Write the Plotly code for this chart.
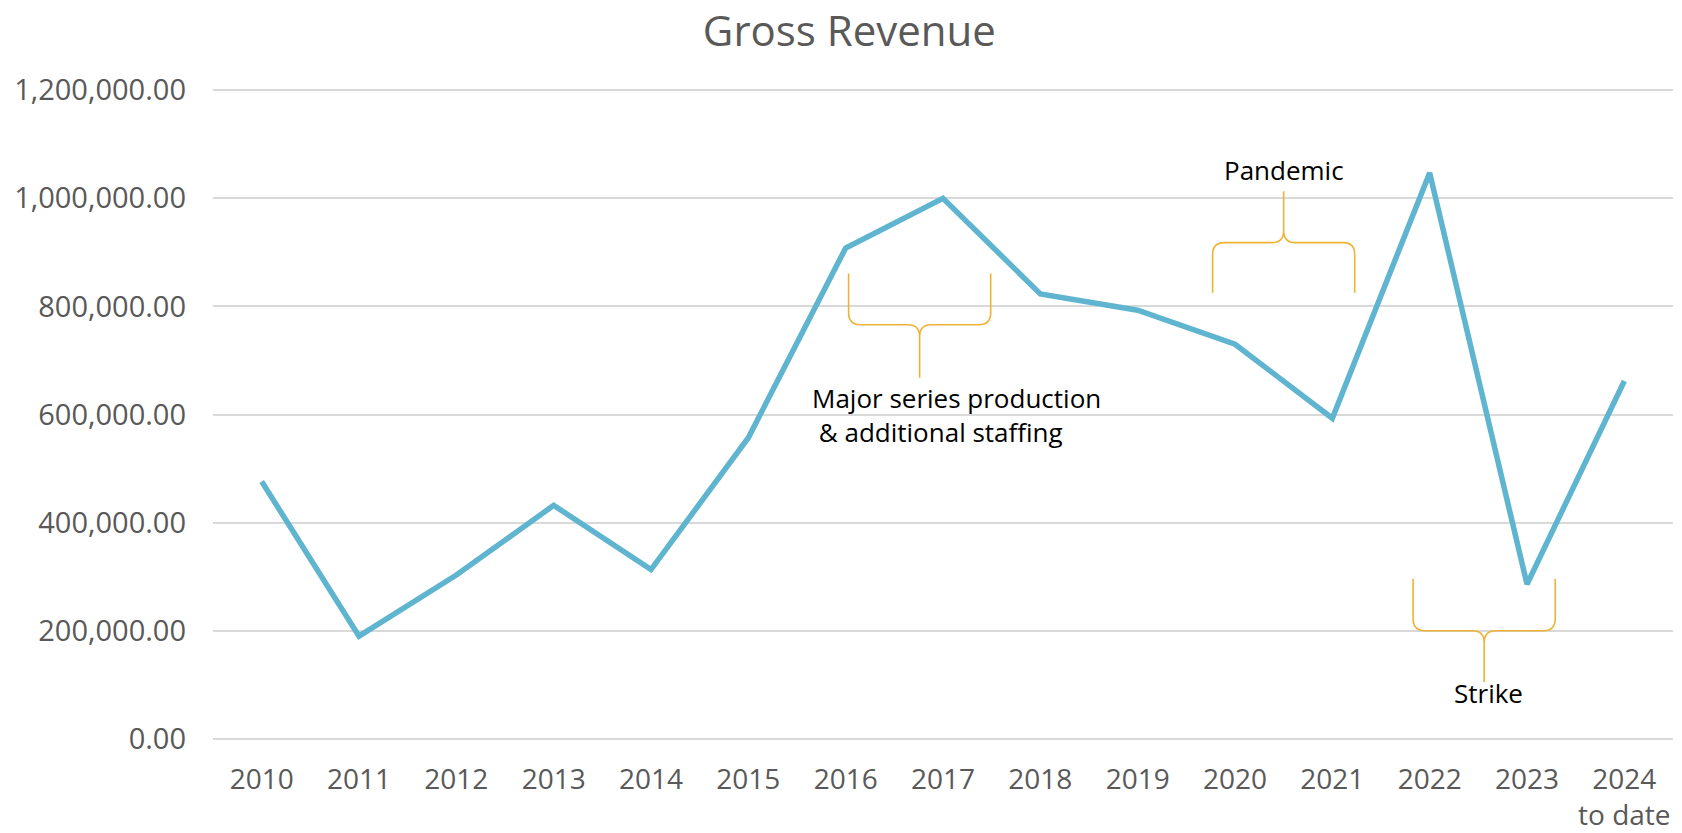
import plotly.graph_objects as go

years = ["2010", "2011", "2012", "2013", "2014", "2015", "2016", "2017",
         "2018", "2019", "2020", "2021", "2022", "2023", "2024<br>to date"]
revenue = [476000, 190000, 303000, 432000, 313000, 557000, 908000, 1000000,
           823000, 793000, 730000, 593000, 1047000, 286000, 662000]
y_ticks = [0, 200000, 400000, 600000, 800000, 1000000, 1200000]

# braces: (left x, right x, middle x, side-end y, bar y, tip y) in data units
braces = [
    (6.03, 7.49, 6.76, 861000, 766000, 668000),
    (9.77, 11.23, 10.50, 825000, 918000, 1013000),
    (11.83, 13.29, 12.56, 296000, 200000, 105000),
]
labels = [
    ("Major series production<br>&nbsp;& additional staffing", 5.63, 599000, "left"),
    ("Pandemic", 10.50, 1053000, "center"),
    ("Strike", 12.60, 85000, "center"),
]

xs = list(range(len(years)))

fig = go.Figure()
fig.add_trace(go.Scatter(x=xs, y=revenue, mode="lines",
                         line=dict(color="#5FB4CF", width=5.5),
                         hoverinfo="x+y"))

def brace_path(x0, x1, xm, yend, ybar, ytip, rx=0.12, ry=22000):
    s = 1 if yend > ybar else -1
    p = (f"M {x0},{yend} L {x0},{ybar + s*ry} Q {x0},{ybar} {x0 + rx},{ybar} "
         f"L {xm - rx},{ybar} Q {xm},{ybar} {xm},{ybar - s*ry} L {xm},{ytip} "
         f"M {xm},{ybar - s*ry} Q {xm},{ybar} {xm + rx},{ybar} "
         f"L {x1 - rx},{ybar} Q {x1},{ybar} {x1},{ybar + s*ry} L {x1},{yend}")
    return p

for b in braces:
    fig.add_shape(type="path", path=brace_path(*b), xref="x", yref="y",
                  line=dict(color="#EEB336", width=1.6))

for text, x, y, al in labels:
    fig.add_annotation(text=text, x=x, y=y, xref="x", yref="y", showarrow=False,
                       xanchor="left" if al == "left" else "center",
                       yanchor="middle", align=al,
                       font=dict(family="Open Sans", size=26, color="#000000"))

fig.update_layout(
    width=1682, height=833,
    paper_bgcolor="white", plot_bgcolor="white",
    margin=dict(l=213, r=9, t=88, b=92, autoexpand=False),
    showlegend=False,
    title=dict(text="Gross Revenue", x=0.505, y=1 - 31/833, xanchor="center",
               yanchor="middle", font=dict(family="Open Sans", size=42, color="#595959")),
    font=dict(family="Open Sans", color="#595959"),
)
fig.update_xaxes(range=[-0.5, 14.5], tickmode="array", tickvals=xs, ticktext=years,
                 showgrid=False, zeroline=False, showline=False, automargin=False,
                 tickfont=dict(size=28, color="#595959"), ticklabelstandoff=19)
fig.update_yaxes(range=[-4000, 1204000], tickmode="array", tickvals=y_ticks,
                 tickformat=",.2f", showgrid=True, gridcolor="#D9D9D9", gridwidth=1.5,
                 zeroline=False, showline=False, automargin=False,
                 tickfont=dict(size=29, color="#595959"), ticklabelstandoff=26)

fig.write_html("out.html", config={"displayModeBar": False},
               post_script="document.body.style.margin='0';")
